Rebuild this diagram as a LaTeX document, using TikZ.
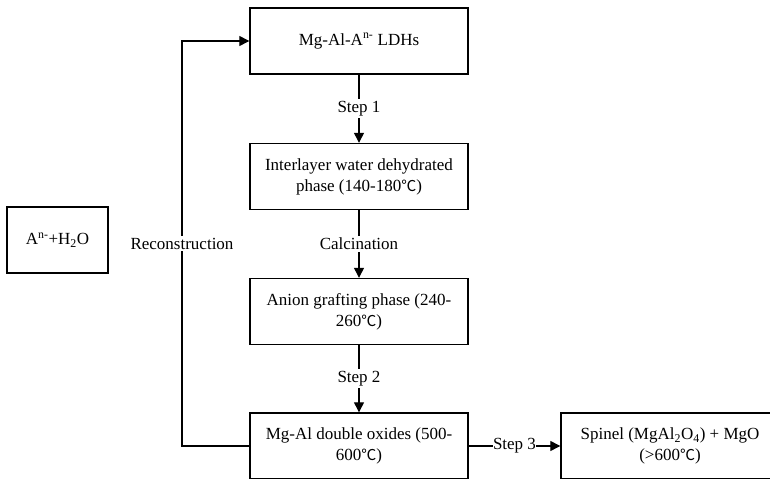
\documentclass[tikz,border=0pt]{standalone}
\usepackage{fontspec}
\setmainfont{Liberation Serif}
\newfontfamily\tnrfont{Liberation Serif}
\newfontfamily\cjkdeg{Noto Sans CJK SC}
\usetikzlibrary{arrows.meta}
\newcommand\dgC{{\cjkdeg\fontsize{15bp}{21bp}\selectfont ℃}}
\tikzset{
  box/.style={draw=black, line width=1.4bp, fill=white, minimum width=218bp, minimum height=66bp, align=center, inner sep=0pt},
  lbl/.style={fill=white, inner sep=2bp},
  arr/.style={line width=1.3bp, -{Triangle[length=10bp,width=10bp]}},
  every node/.style={font=\tnrfont\fontsize{17bp}{21bp}\selectfont}
}
\begin{document}
\begin{tikzpicture}[x=1bp,y=-1bp]
\clip (0,0) rectangle (770,479);
\fill[white] (0,0) rectangle (770,479);
\node[box] (m1) at (359,41) {Mg-Al-A\textsuperscript{n-} LDHs};
\node[box] (m2) at (359,176.5) {Interlayer water dehydrated\\phase (140-180\dgC)};
\node[box] (m3) at (359,311.5) {Anion grafting phase (240-\\260\dgC)};
\node[box] (m4) at (359,446) {Mg-Al double oxides (500-\\600\dgC)};
\node[box] (m5) at (670,446) {Spinel (MgAl\textsubscript{2}O\textsubscript{4}) + MgO\\(>600\dgC)};
\node[box, minimum width=101bp] (w) at (57.5,240) {A\textsuperscript{n-}+H\textsubscript{2}O};
\coordinate (c1) at (182,446);
\coordinate (c2) at (182,41);
\draw[arr] (m1.south) -- node[lbl]{Step 1} (m2.north);
\draw[arr] (m2.south) -- node[lbl]{Calcination} (m3.north);
\draw[arr] (m3.south) -- node[lbl]{Step 2} (m4.north);
\draw[arr] (m4.east) -- node[lbl, inner sep=0.5bp]{Step 3} (m5.west);
\draw[arr] (m4.west) -- (c1) -- node[lbl]{Reconstruction} (c2) -- (m1.west);
\end{tikzpicture}
\end{document}
